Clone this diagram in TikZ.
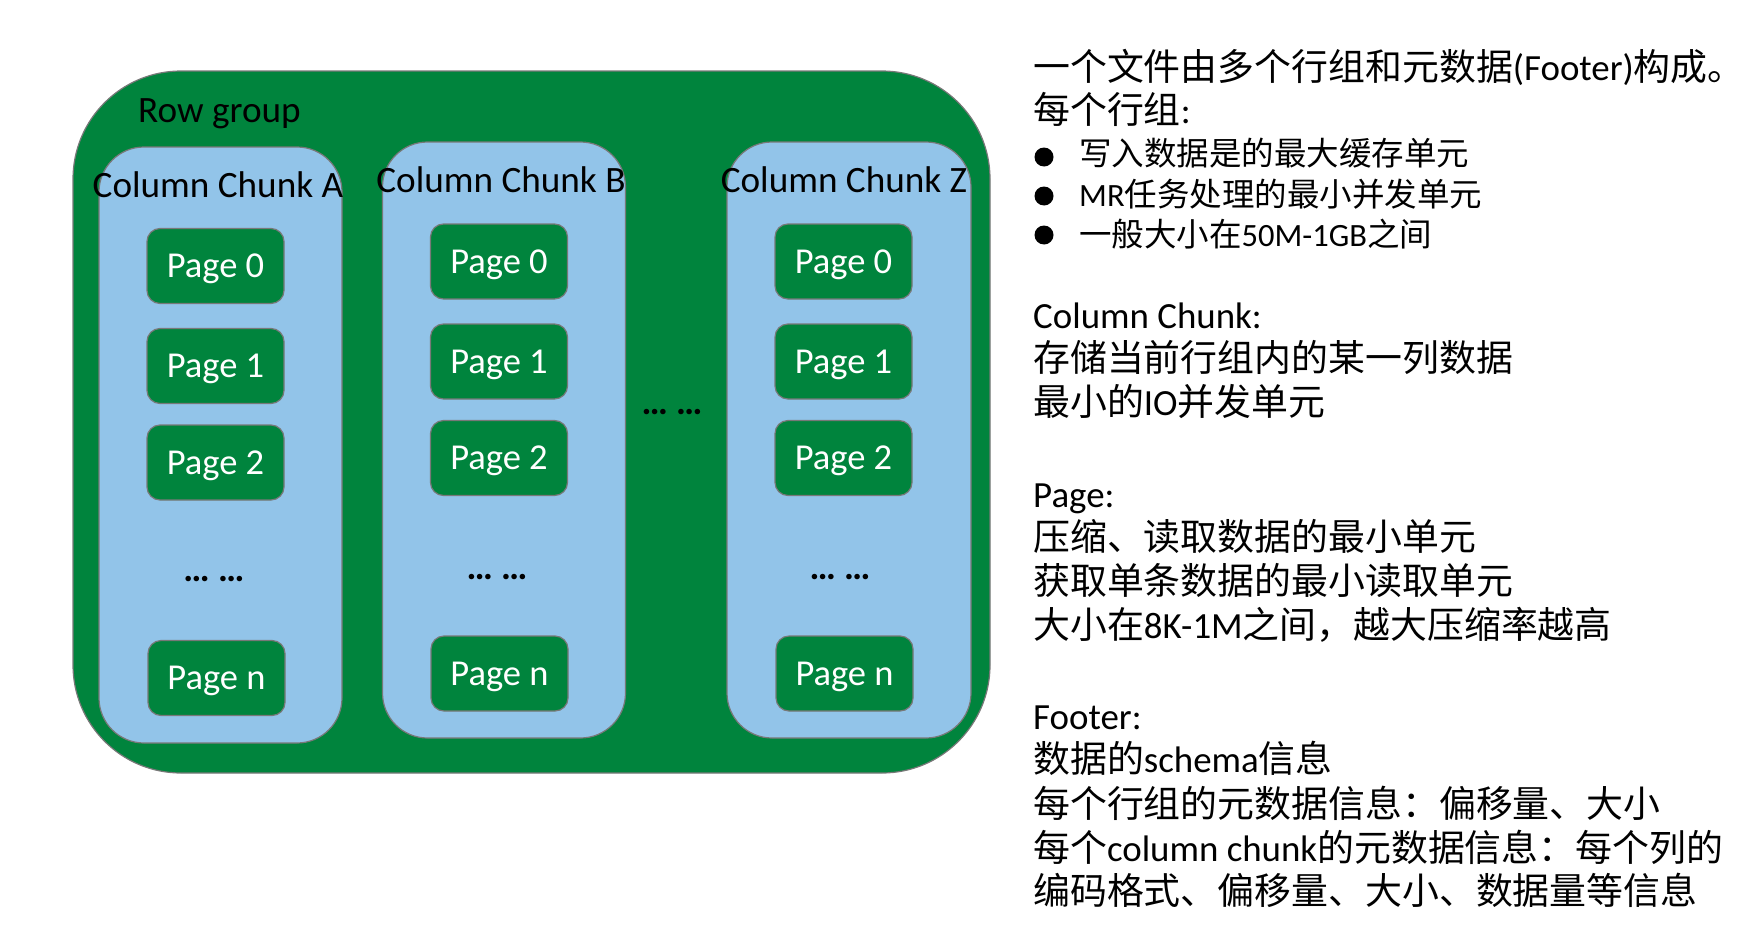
\documentclass[tikz,border=0pt]{standalone}
\usepackage{fontspec}
\setmainfont{Carlito}
\newfontfamily\zhf{Noto Sans CJK SC}
\definecolor{rggreen}{RGB}{0,132,61}
\definecolor{ccblue}{RGB}{146,196,233}
\definecolor{edgegray}{RGB}{120,120,120}
\begin{document}
\begin{tikzpicture}[x=1pt,y=-1pt,
  rowgroup/.style={draw=edgegray,fill=rggreen,line width=1.2pt,rounded corners=108pt,
    minimum width=917pt,minimum height=702pt,inner sep=0pt},
  chunk/.style={draw=edgegray,fill=ccblue,line width=1.2pt,rounded corners=45pt,
    minimum width=243pt,minimum height=596pt,inner sep=0pt},
  pagebox/.style={draw=edgegray,fill=rggreen,line width=1.2pt,rounded corners=13pt,
    minimum width=137pt,minimum height=75pt,inner sep=0pt,text=white,
    text height=23pt,text depth=0pt,font=\fontsize{36.5}{40}\selectfont},
  title/.style={inner sep=0pt,font=\fontsize{37.2}{40}\selectfont,text=black},
  dots/.style={inner sep=0pt,font=\fontsize{37}{40}\selectfont\bfseries,text=black},
  rt/.style={anchor=base west,inner sep=0pt,font=\fontsize{36.9}{44}\selectfont},
  bt/.style={anchor=base west,inner sep=0pt,font=\fontsize{32.5}{40}\selectfont},
  bul/.style={circle,fill=black,minimum size=19pt,inner sep=0pt}]
\useasboundingbox (0,0) rectangle (1760,950);

% row group
\node[rowgroup] (rg) at (531.5,422) {};
\node[title,anchor=base west] (rgt) at (138,122) {Row group};

% column chunks
\node[chunk] (ca) at (220.5,445) {};
\node[chunk] (cb) at (504,440) {};
\node[chunk,minimum width=244pt] (cz) at (849,440) {};
\node[title,anchor=base] (cat) at (218,197) {Column Chunk A};
\node[title,anchor=base] (cbt) at (501,192) {Column Chunk B};
\node[title,anchor=base] (czt) at (844,192) {Column Chunk Z};

% pages A
\node[pagebox] (a0) at (215.5,266) {Page 0};
\node[pagebox] (a1) at (215.5,366) {Page 1};
\node[pagebox] (a2) at (215.5,462.5) {Page 2};
\node[dots] (ad) at (214,579) {… …};
\node[pagebox] (an) at (216.5,678) {Page n};
% pages B
\node[pagebox] (b0) at (499,261.5) {Page 0};
\node[pagebox] (b1) at (499,361.5) {Page 1};
\node[pagebox] (b2) at (499,458) {Page 2};
\node[dots] (bd) at (497,577) {… …};
\node[pagebox] (bn) at (499.5,673.5) {Page n};
% pages Z
\node[pagebox] (z0) at (843.5,261.5) {Page 0};
\node[pagebox] (z1) at (843.5,361.5) {Page 1};
\node[pagebox] (z2) at (843.5,458) {Page 2};
\node[dots] (zd) at (840,577) {… …};
\node[pagebox] (zn) at (844.5,673.5) {Page n};
% middle dots
\node[dots] (md) at (672,412) {… …};

% right text
\node[rt] (t1) at (1033,81) {{\zhf 一个文件由多个行组和元数据}(Footer){\zhf 构成。}};
\node[rt] (t2) at (1033,123) {{\zhf 每个行组}:};
\node[bul] (u1) at (1044,157) {};
\node[bt] (t3) at (1079,165) {\zhf 写入数据是的最大缓存单元};
\node[bul] (u2) at (1044,196) {};
\node[bt] (t4) at (1079,206) {MR{\zhf 任务处理的最小并发单元}};
\node[bul] (u3) at (1044,235) {};
\node[bt] (t5) at (1079,246) {{\zhf 一般大小在}50M-1GB{\zhf 之间}};
\node[rt] (t6) at (1033,328) {Column Chunk:};
\node[rt] (t7) at (1033,371) {\zhf 存储当前行组内的某一列数据};
\node[rt] (t8) at (1033,415) {{\zhf 最小的}IO{\zhf 并发单元}};
\node[rt] (t9) at (1033,507) {Page:};
\node[rt] (t10) at (1033,550) {\zhf 压缩、读取数据的最小单元};
\node[rt] (t11) at (1033,594) {\zhf 获取单条数据的最小读取单元};
\node[rt] (t12) at (1033,638) {{\zhf 大小在}8K-1M{\zhf 之间，越大压缩率越高}};
\node[rt] (t13) at (1033,729) {Footer:};
\node[rt] (t14) at (1033,772) {{\zhf 数据的}schema{\zhf 信息}};
\node[rt] (t15) at (1033,817) {\zhf 每个行组的元数据信息：偏移量、大小};
\node[rt] (t16) at (1033,861) {{\zhf 每个}column chunk{\zhf 的元数据信息：每个列的}};
\node[rt] (t17) at (1033,904) {\zhf 编码格式、偏移量、大小、数据量等信息};
\end{tikzpicture}
\end{document}
